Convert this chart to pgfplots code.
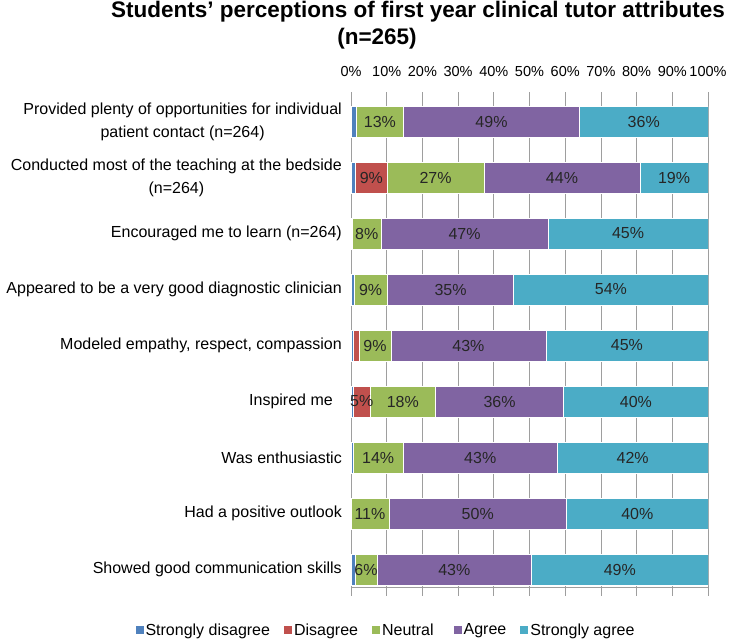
\documentclass[border=0pt]{standalone}
\usepackage{fontspec}
\setmainfont{Liberation Sans}
\usepackage{pgfplots}
\usepackage{pgfplotstable}
\pgfplotsset{compat=1.18}
\definecolor{cSD}{HTML}{4F81BD}
\definecolor{cD}{HTML}{C0504D}
\definecolor{cN}{HTML}{9BBB59}
\definecolor{cA}{HTML}{8064A2}
\definecolor{cSA}{HTML}{4BACC6}
\pgfplotstableread{
SD D N A SA
1.5 0 13.2 49.3 36.0
1.2 9.0 27.0 43.8 19.0
0.4 0 8.0 46.8 44.8
0.8 0 9.4 35.4 54.4
0.6 1.6 9.0 43.4 45.4
0.6 4.8 18.2 36.0 40.4
0.6 0 14.0 43.2 42.2
0 0 10.6 49.8 39.6
1.1 0 6.2 43.3 49.4
}\data
\pgfplotsset{
  seglabel/.style={
    only marks, mark=none,
    visualization depends on={\thisrow{#1} \as \rawv},
    nodes near coords={\ifdim\rawv pt<4pt\relax\else\pgfmathprintnumber[fixed,precision=0,assume math mode=true]{\rawv}\%\fi},
    every node near coord/.append style={anchor=center, font=\fontsize{16}{19}\selectfont, text=black!85},
  },
  geom/.style={
    at={(351pt,-92pt)}, anchor=north west,
    width=357pt, height=495pt, scale only axis,
    xmin=0, xmax=100, ymin=-0.3125, ymax=8.527,
  }
}
\begin{document}
\begin{tikzpicture}
\path[use as bounding box] (0pt,0pt) rectangle (730pt,-639pt);
\node[anchor=base, font=\fontsize{22.5}{27}\selectfont\bfseries] at (418pt,-18pt) {Students’ perceptions of first year clinical tutor attributes};
\node[anchor=base, font=\fontsize{22.5}{27}\selectfont\bfseries] at (377pt,-45pt) {(n=265)};
\begin{axis}[
  geom,
  xbar stacked, bar width=31pt,
  axis x line*=top, axis y line*=left, axis line style={draw=none},
  xtick={0,10,...,100},
  xticklabels={0\%,10\%,20\%,30\%,40\%,50\%,60\%,70\%,80\%,90\%,100\%},
  ytick={0,...,8},
  yticklabels={Showed good communication skills, Had a positive outlook, Was enthusiastic, {Inspired me\hspace*{9pt}}, {Modeled empathy, respect, compassion}, Appeared to be a very good diagnostic clinician, Encouraged me to learn (n=264), {Conducted most of the teaching at the bedside\\(n=264)}, {Provided plenty of opportunities for individual\\patient contact (n=264)}},
  major tick length=0pt,
  yticklabel style={font=\fontsize{16}{23}\selectfont, text=black, anchor=east, inner sep=0pt, xshift=-9pt, align=center},
  xticklabel style={font=\fontsize{14.5}{17}\selectfont, text=black, anchor=south, inner sep=0pt, yshift=15pt},
  xmajorgrids, grid style={black!38, line width=0.8pt},
  legend style={at={(0.098,-0.087)}, anchor=center, draw=none, fill=none,
    legend columns=5, font=\fontsize{16}{19}\selectfont,
    /tikz/every even column/.append style={column sep=12pt}},
  legend cell align=left,
  legend image code/.code={\fill[#1, draw=none] (0pt,-4pt) rectangle (8pt,4pt);},
]
\addplot[fill=cSD, draw=white, line width=0.6pt] table[x=SD, y expr=8-\coordindex] {\data};
\addplot[fill=cD, draw=white, line width=0.6pt] table[x=D, y expr=8-\coordindex] {\data};
\addplot[fill=cN, draw=white, line width=0.6pt] table[x=N, y expr=8-\coordindex] {\data};
\addplot[fill=cA, draw=white, line width=0.6pt] table[x=A, y expr=8-\coordindex] {\data};
\addplot[fill=cSA, draw=white, line width=0.6pt] table[x=SA, y expr=8-\coordindex] {\data};
\legend{Strongly disagree, Disagree, Neutral\hspace*{6pt}, Agree, Strongly agree}
\end{axis}
\begin{axis}[geom, hide axis]
\addplot[seglabel=D] table[x expr=\thisrow{SD}+\thisrow{D}/2, y expr=8-\coordindex] {\data};
\addplot[seglabel=N] table[x expr=\thisrow{SD}+\thisrow{D}+\thisrow{N}/2, y expr=8-\coordindex] {\data};
\addplot[seglabel=A] table[x expr=\thisrow{SD}+\thisrow{D}+\thisrow{N}+\thisrow{A}/2, y expr=8-\coordindex] {\data};
\addplot[seglabel=SA] table[x expr=\thisrow{SD}+\thisrow{D}+\thisrow{N}+\thisrow{A}+\thisrow{SA}/2, y expr=8-\coordindex] {\data};
\end{axis}
\draw[black!38, line width=0.8pt] (351pt,-587pt) -- (708pt,-587pt);
\foreach \t in {0,...,10} {\draw[black!38, line width=0.8pt] (351pt+\t*35.7pt,-587pt) -- ++(0,-9pt);}
\end{tikzpicture}
\end{document}
